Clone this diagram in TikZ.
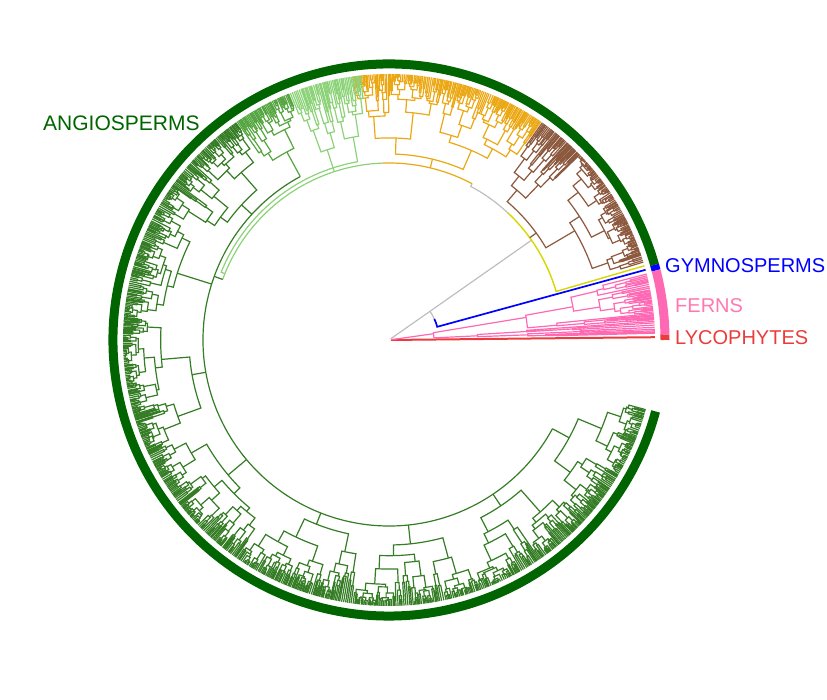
\documentclass[tikz,border=0pt]{standalone}
\usepackage{fontspec}
\setmainfont{Liberation Sans}
\definecolor{bandgreen}{RGB}{0,100,0}
\definecolor{midgreen}{RGB}{52,125,36}
\definecolor{midgreenB}{RGB}{85,165,65}
\definecolor{lightgreenC}{RGB}{140,210,120}
\definecolor{orangeC}{RGB}{235,168,20}
\definecolor{brownC}{RGB}{140,88,62}
\definecolor{pinkC}{RGB}{255,105,180}
\definecolor{redC}{RGB}{235,60,60}
\definecolor{yellowC}{RGB}{215,215,0}
\definecolor{grayC}{RGB}{190,190,190}
\definecolor{blueC}{RGB}{0,0,255}
\definecolor{fernlabel}{RGB}{255,120,175}
\def\Rt{266}
\def\minw{0.5}
\newcommand\phybr[3]{%
 \begingroup
 \pgfmathsetmacro\phW{#2-#1}%
 \pgfmathsetmacro\phM{#1+(0.15+0.7*rnd)*\phW}%
 \pgfmathsetmacro\phCa{(#1+\phM)/2}%
 \pgfmathsetmacro\phCb{(\phM+#2)/2}%
 \pgfmathsetmacro\phWa{\phM-#1}%
 \pgfmathsetmacro\phWb{#2-\phM}%
 \ifdim\phWa pt<\minw pt \let\phRa\Rt\def\phLa{0}\else\pgfmathsetmacro\phRa{#3+(\Rt-#3)*(0.08+0.36*rnd)}\def\phLa{1}\fi
 \ifdim\phWb pt<\minw pt \let\phRb\Rt\def\phLb{0}\else\pgfmathsetmacro\phRb{#3+(\Rt-#3)*(0.08+0.36*rnd)}\def\phLb{1}\fi
 \draw (\phCa:\phRa pt) -- (\phCa:#3pt) arc[start angle=\phCa,end angle=\phCb,radius=#3pt] -- (\phCb:\phRb pt);
 \if1\phLa \edef\phNext{\noexpand\phybr{#1}{\phM}{\phRa}}\phNext\fi
 \if1\phLb \edef\phNext{\noexpand\phybr{\phM}{#2}{\phRb}}\phNext\fi
 \endgroup}
\tikzset{
  label/.style={font=\fontsize{20}{24}\selectfont, inner sep=0pt, anchor=base west},
  band/.style={line width=9pt},
}
\begin{document}
\begin{tikzpicture}[x=1pt,y=1pt]
\path[use as bounding box] (0,0) rectangle (827,700);
\pgfmathsetseed{3}
\begin{scope}[shift={(389,360)}, line width=1.2pt]
 % lycophytes
 \draw[redC, line width=2pt] (0.6:2pt) -- (0.6:\Rt pt);
 % ferns
 \draw[pinkC] (8:2pt) -- (8:45pt);
 \begin{scope}[pinkC]\phybr{1.3}{14.6}{45}\end{scope}
 % seed plants
 \draw[grayC] (35:2pt) -- (35:174pt);
 \draw[grayC] (35:50pt) arc[start angle=35,end angle=25,radius=50pt];
 \draw[blueC, line width=1.7pt] (25:50pt) arc[start angle=25,end angle=15.3,radius=50pt] -- (15.3:\Rt pt);
 % amborella
 \draw[yellowC, line width=1.4pt] (16.2:\Rt pt) -- (16.2:174pt) arc[start angle=16.2,end angle=47,radius=174pt];
 \draw[grayC] (47:174pt) arc[start angle=47,end angle=62,radius=174pt] -- (62:177pt);
 % brown clade
 \draw[brownC] (36:174pt) -- (36:182pt);
 \begin{scope}[brownC]\phybr{16.9}{55}{182}\end{scope}
 % orange clade
 \draw[orangeC] (62:177pt) arc[start angle=62,end angle=92,radius=177pt];
 \draw[orangeC] (76.5:177pt) -- (76.5:186pt);
 \begin{scope}[orangeC]\phybr{55}{98}{186}\end{scope}
 % light green clade
 \draw[lightgreenC] (92:177pt) arc[start angle=92,end angle=160,radius=177pt];
 \draw[lightgreenC] (108:177pt) -- (108:200pt);
 \begin{scope}[lightgreenC]\phybr{104}{112}{200}\end{scope}
 \draw[lightgreenC] (158:177pt) -- (158:181pt) arc[start angle=158,end angle=100,radius=181pt] -- (100:206pt);
 \begin{scope}[lightgreenC]\phybr{96}{104}{206}\end{scope}
 % main green clade
 \draw[midgreen] (160:177pt) -- (160:186pt);
 \draw[midgreen] (118.5:186pt) arc[start angle=118.5,end angle=331.5,radius=186pt];
 \draw[midgreenB] (118.5:186pt) -- (118.5:214pt);
 \begin{scope}[midgreenB]\phybr{112}{125}{214}\end{scope}
 \begin{scope}[midgreen]
  \draw (137.5:186pt) -- (137.5:200pt); \phybr{125}{150}{200}
  \draw (162.5:186pt) -- (162.5:222pt); \phybr{150}{175}{222}
  \draw (190:186pt) -- (190:200pt); \phybr{175}{205}{200}
  \draw (220:186pt) -- (220:210pt); \phybr{205}{235}{210}
  \draw (248.5:186pt) -- (248.5:198pt); \phybr{235}{262}{198}
  \draw (276:186pt) -- (276:205pt); \phybr{262}{290}{205}
  \draw (304:186pt) -- (304:200pt); \phybr{290}{318}{200}
  \draw (331.5:186pt) -- (331.5:205pt); \phybr{318}{345}{205}
 \end{scope}
 % outer bars
 \draw[band, bandgreen] (15.8:276pt) arc[start angle=15.8,end angle=345,radius=276pt];
 \draw[band, blueC] (14.6:276pt) arc[start angle=14.6,end angle=15.8,radius=276pt];
 \draw[band, pinkC] (1.1:276pt) arc[start angle=1.1,end angle=14.6,radius=276pt];
 \draw[band, redC] (0:276pt) arc[start angle=0,end angle=1.1,radius=276pt];
\end{scope}
\node[label, font=\fontsize{21}{25}\selectfont, text=bandgreen] (angio) at (43,569) {ANGIOSPERMS};
\node[label, text=blueC] (gymno) at (665,427.3) {GYMNOSPERMS};
\node[label, text=fernlabel] (ferns) at (675,387.3) {FERNS};
\node[label, text=redC] (lyco) at (675,355) {LYCOPHYTES};
\end{tikzpicture}
\end{document}
